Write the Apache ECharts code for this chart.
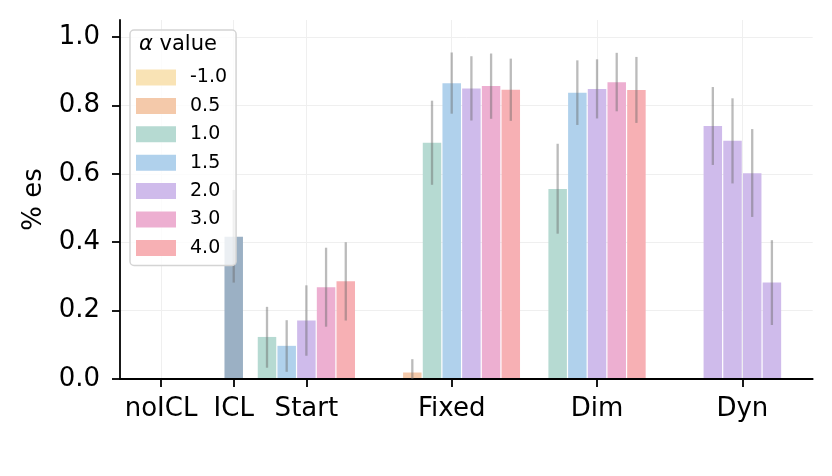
<!DOCTYPE html>
<html>
<head>
<meta charset="utf-8">
<script src="https://cdn.jsdelivr.net/npm/echarts@6/dist/echarts.min.js"></script>
<style>
html,body{margin:0;padding:0;background:#fff;}
#c{width:832px;height:476px;}
</style>
</head>
<body>
<div id="c"></div>
<script>
// ---- data ----
const categories = ['noICL', 'ICL', 'Start', 'Fixed', 'Dim', 'Dyn'];
const categoryPositions = [0, 1, 2, 4, 6, 8];
const alphaLabels = ['-1.0', '0.5', '1.0', '1.5', '2.0', '3.0', '4.0'];
const yTicks = [0, 0.2, 0.4, 0.6, 0.8, 1.0];

// ICL baseline (single bar)
const iclMean = [0.416];
const iclLow  = [0.282];
const iclHigh = [0.553];

// per alpha level (aligned with alphaLabels); null = not present
const startMean = [null, null, 0.123, 0.097, 0.171, 0.268, 0.286];
const startLow  = [null, null, 0.033, 0.021, 0.068, 0.153, 0.171];
const startHigh = [null, null, 0.211, 0.172, 0.274, 0.384, 0.400];

const fixedMean = [0.0, 0.019, 0.691, 0.865, 0.850, 0.857, 0.846];
const fixedLow  = [0.0, 0.0,   0.568, 0.776, 0.756, 0.761, 0.755];
const fixedHigh = [0.0, 0.058, 0.814, 0.955, 0.944, 0.952, 0.937];

const dimMean = [null, null, 0.556, 0.837, 0.848, 0.868, 0.845];
const dimLow  = [null, null, 0.425, 0.743, 0.762, 0.783, 0.749];
const dimHigh = [null, null, 0.688, 0.932, 0.935, 0.954, 0.942];

// Dyn: four runs, all alpha = 2.0
const dynMean = [0.740, 0.697, 0.602, 0.282];
const dynLow  = [0.626, 0.572, 0.474, 0.158];
const dynHigh = [0.854, 0.821, 0.731, 0.406];

// ---- styles ----
const alphaColors = ['#f9e3b5', '#f4c9aa', '#b6dad2', '#b0d1ec', '#cfbbeb', '#edafd1', '#f7b0b4'];
const iclColor = '#9bb0c4';
const BAR_STEP = 0.271;
const FONT = 'DejaVu Sans';

// ---- build series data ----
const seriesData = alphaLabels.map(() => []);
function addGroup(catName, mean, low, high) {
  const pos = categoryPositions[categories.indexOf(catName)];
  const present = [];
  mean.forEach((v, i) => { if (v !== null) present.push(i); });
  const n = present.length;
  present.forEach((li, k) => {
    const x = pos + (k - (n - 1) / 2) * BAR_STEP;
    seriesData[li].push([x, mean[li], low[li], high[li]]);
  });
}
addGroup('Start', startMean, startLow, startHigh);
addGroup('Fixed', fixedMean, fixedLow, fixedHigh);
addGroup('Dim', dimMean, dimLow, dimHigh);
(function () {
  const pos = categoryPositions[categories.indexOf('Dyn')];
  const n = dynMean.length;
  const li = alphaLabels.indexOf('2.0');
  dynMean.forEach((v, k) => {
    seriesData[li].push([pos + (k - (n - 1) / 2) * BAR_STEP, v, dynLow[k], dynHigh[k]]);
  });
})();
const iclData = iclMean.map((v, k) => [categoryPositions[categories.indexOf('ICL')], v, iclLow[k], iclHigh[k]]);

function makeRender(color) {
  return function (params, api) {
    const x = api.value(0), y = api.value(1);
    const lo = api.value(2), hi = api.value(3);
    const children = [];
    const pL = api.coord([x - BAR_STEP / 2, 0]);
    const pR = api.coord([x + BAR_STEP / 2, y]);
    if (y > 0) {
      children.push({
        type: 'rect',
        shape: { x: pL[0] + 0.6, y: pR[1], width: pR[0] - pL[0] - 1.2, height: pL[1] - pR[1] - 1 },
        style: { fill: color }
      });
    }
    if (hi > lo) {
      const a = api.coord([x, lo]), b = api.coord([x, hi]);
      children.push({
        type: 'line',
        shape: { x1: a[0], y1: a[1], x2: b[0], y2: b[1] },
        style: { stroke: 'rgba(105,105,105,0.45)', lineWidth: 2.3 }
      });
    }
    return { type: 'group', children: children };
  };
}

const series = alphaLabels.map((name, i) => ({
  name: name,
  type: 'custom',
  itemStyle: { color: alphaColors[i] },
  renderItem: makeRender(alphaColors[i]),
  encode: { x: 0, y: 1 },
  data: seriesData[i],
  clip: false,
  silent: true
}));
series.unshift({
  name: 'ICL',
  type: 'custom',
  itemStyle: { color: iclColor },
  renderItem: makeRender(iclColor),
  encode: { x: 0, y: 1 },
  data: iclData,
  clip: false,
  silent: true
});

const chart = echarts.init(document.getElementById('c'), null, { renderer: 'canvas' });
chart.setOption({
  animation: false,
  backgroundColor: '#fff',
  textStyle: { fontFamily: FONT },
  title: {
    text: '{a|α} value',
    left: 139,
    top: 34,
    padding: 0,
    textStyle: {
      fontFamily: FONT, fontSize: 21, fontWeight: 'normal', color: '#000',
      rich: { a: { fontFamily: FONT, fontSize: 21, fontStyle: 'italic', color: '#000' } }
    }
  },
  legend: {
    data: alphaLabels,
    orient: 'vertical',
    left: 130,
    top: 30,
    padding: [38, 9, 8, 6],
    itemWidth: 40,
    itemHeight: 16,
    itemGap: 9.4,
    icon: 'rect',
    backgroundColor: 'rgba(255,255,255,0.8)',
    borderColor: '#d4d4d4',
    borderWidth: 1.5,
    borderRadius: 4,
    selectedMode: false,
    textStyle: { fontFamily: FONT, fontSize: 19, color: '#000', lineHeight: 16, padding: [0, 0, 0, 9] }
  },
  grid: { left: 120, right: 19.3, top: 20, bottom: 97, containLabel: false },
  xAxis: {
    type: 'value',
    min: -0.565,
    max: 8.968,
    interval: 1,
    axisLine: { show: true, onZero: false, lineStyle: { color: '#000', width: 1.8 } },
    axisTick: { show: true, length: 8, lineStyle: { color: '#000', width: 1.8 }, customValues: categoryPositions },
    axisLabel: {
      customValues: categoryPositions,
      margin: 17,
      fontFamily: FONT, fontSize: 26, color: '#000',
      formatter: function (v) {
        const i = categoryPositions.indexOf(Math.round(v));
        return i >= 0 ? categories[i] : '';
      }
    },
    splitLine: { show: true, lineStyle: { color: '#efefef', width: 1 } }
  },
  yAxis: {
    type: 'value',
    min: 0,
    max: 1.05,
    interval: 0.2,
    name: '% es',
    nameLocation: 'middle',
    nameRotate: 90,
    nameGap: 73,
    nameTextStyle: { fontFamily: FONT, fontSize: 26, color: '#000' },
    axisLine: { show: true, onZero: false, lineStyle: { color: '#000', width: 1.8 } },
    axisTick: { show: true, length: 8, lineStyle: { color: '#000', width: 1.8 }, customValues: yTicks },
    axisLabel: {
      customValues: yTicks,
      margin: 20,
      fontFamily: FONT, fontSize: 26, color: '#000',
      formatter: function (v) { return v.toFixed(1); }
    },
    splitLine: { show: true, lineStyle: { color: '#efefef', width: 1 } }
  },
  series: series
});
</script>
</body>
</html>
